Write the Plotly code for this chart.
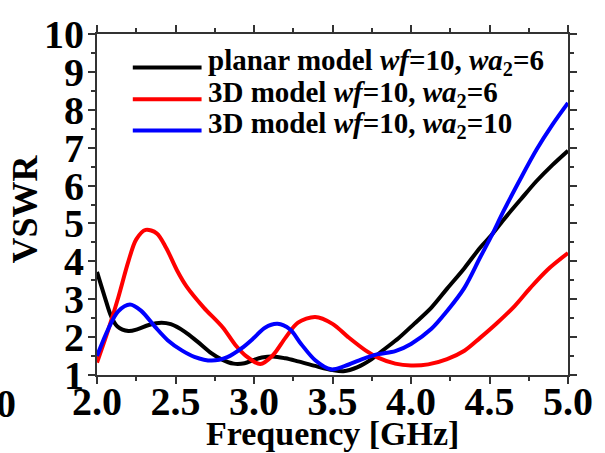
import plotly.graph_objects as go

# VSWR vs frequency for three antenna models
freq_planar = [2.00, 2.05, 2.09, 2.13, 2.20, 2.26, 2.33, 2.41, 2.47, 2.56, 2.64, 2.73, 2.79, 2.87,
               2.94, 3.00, 3.05, 3.12, 3.20, 3.28, 3.39, 3.50, 3.57, 3.66, 3.75, 3.83, 3.92, 4.02,
               4.13, 4.23, 4.34, 4.44, 4.51, 4.59, 4.70, 4.80, 4.90, 5.00]
vswr_planar = [3.72, 3.05, 2.55, 2.28, 2.16, 2.21, 2.32, 2.38, 2.34, 2.14, 1.88, 1.57, 1.42, 1.30,
               1.31, 1.40, 1.46, 1.49, 1.44, 1.36, 1.24, 1.13, 1.10, 1.21, 1.42, 1.68, 1.97, 2.35,
               2.78, 3.28, 3.82, 4.36, 4.68, 5.10, 5.64, 6.12, 6.54, 6.92]

freq_3d_wa6 = [2.00, 2.07, 2.135, 2.20, 2.25, 2.31, 2.38, 2.44, 2.51, 2.57, 2.68, 2.80, 2.88, 2.95,
               3.04, 3.12, 3.20, 3.28, 3.39, 3.50, 3.60, 3.71, 3.79, 3.90, 4.00, 4.11, 4.23, 4.34,
               4.44, 4.55, 4.66, 4.76, 4.87, 5.00]
vswr_3d_wa6 = [1.33, 2.17, 3.04, 4.00, 4.58, 4.83, 4.74, 4.36, 3.76, 3.34, 2.78, 2.26, 1.80, 1.50,
               1.29, 1.52, 1.98, 2.38, 2.53, 2.35, 2.00, 1.65, 1.46, 1.30, 1.25, 1.28, 1.42, 1.64,
               1.98, 2.38, 2.82, 3.30, 3.78, 4.22]

freq_3d_wa10 = [2.00, 2.07, 2.135, 2.21, 2.28, 2.37, 2.45, 2.54, 2.62, 2.73, 2.83, 2.92, 3.00, 3.07,
                3.15, 3.23, 3.30, 3.39, 3.49, 3.58, 3.69, 3.79, 3.90, 4.00, 4.13, 4.23, 4.34, 4.44,
                4.51, 4.59, 4.70, 4.80, 4.90, 5.00]
vswr_3d_wa10 = [1.50, 2.20, 2.68, 2.86, 2.70, 2.27, 1.92, 1.65, 1.48, 1.38, 1.47, 1.70, 1.98, 2.25,
                2.35, 2.20, 1.82, 1.39, 1.15, 1.24, 1.42, 1.55, 1.63, 1.82, 2.22, 2.69, 3.30, 4.10,
                4.65, 5.33, 6.20, 6.95, 7.60, 8.18]

series_labels = [
    "planar model <i>wf</i>=10, <i>wa</i><sub>2</sub>=6",
    "3D model <i>wf</i>=10, <i>wa</i><sub>2</sub>=6",
    "3D model <i>wf</i>=10, <i>wa</i><sub>2</sub>=10",
]
series_colors = ["#000000", "#ff0000", "#0000ff"]

x_ticks = [2.0, 2.5, 3.0, 3.5, 4.0, 4.5, 5.0]
x_tick_text = ["2.0", "2.5", "3.0", "3.5", "4.0", "4.5", "5.0"]
y_ticks = [1, 2, 3, 4, 5, 6, 7, 8, 9, 10]

FONT = "Liberation Serif, Times New Roman, serif"

fig = go.Figure()
for xs, ys, name, col in zip([freq_planar, freq_3d_wa6, freq_3d_wa10],
                             [vswr_planar, vswr_3d_wa6, vswr_3d_wa10],
                             series_labels, series_colors):
    fig.add_trace(go.Scatter(x=xs, y=ys, mode="lines", name=name,
                             line=dict(color=col, width=4, shape="spline", smoothing=0.9),
                             showlegend=False))

axis_common = dict(
    showline=True, linecolor="#333333", linewidth=2, mirror="ticks",
    ticks="outside", ticklen=7, tickwidth=1.5, tickcolor="#333333",
    showgrid=False, zeroline=False,
    tickfont=dict(family=FONT, size=40, color="#000000", weight="bold"),
)

fig.update_xaxes(range=[2.0, 5.0], tickvals=x_ticks, ticktext=x_tick_text,
                 ticklabelstandoff=-17,
                 minor=dict(dtick=0.25, tick0=2.0, ticklen=4, tickwidth=1.5,
                            tickcolor="#333333", ticks="outside", showgrid=False),
                 **axis_common)
fig.update_yaxes(range=[1, 10], tickvals=y_ticks,
                 ticklabelstandoff=-4,
                 minor=dict(dtick=0.5, tick0=1, ticklen=4, tickwidth=1.5,
                            tickcolor="#333333", ticks="outside", showgrid=False),
                 **axis_common)

# Legend drawn as line samples plus rich-text labels
legend_rows_y = [0.902, 0.809, 0.717]
for row_y, name, col in zip(legend_rows_y, series_labels, series_colors):
    fig.add_shape(type="line", xref="paper", yref="paper",
                  x0=0.076, x1=0.222, y0=row_y, y1=row_y,
                  line=dict(color=col, width=4))
    fig.add_annotation(xref="paper", yref="paper", x=0.232, y=row_y + 0.016,
                       xanchor="left", yanchor="middle", showarrow=False,
                       text="<b>" + name + "</b>",
                       font=dict(family=FONT, size=29, color="#000000"))

# Axis titles
fig.add_annotation(xref="paper", yref="paper", x=0.5, y=-0.173,
                   xanchor="center", yanchor="middle", showarrow=False,
                   text="<b>Frequency [GHz]</b>",
                   font=dict(family=FONT, size=34, color="#000000"))
fig.add_annotation(xref="paper", yref="paper", x=-0.153, y=0.488,
                   xanchor="center", yanchor="middle", showarrow=False, textangle=-90,
                   text="<b>VSWR</b>",
                   font=dict(family=FONT, size=36, color="#000000"))
# Partial tick label at the far left edge
fig.add_annotation(xref="paper", yref="paper", x=-0.167, y=-0.085,
                   xanchor="right", yanchor="middle", showarrow=False,
                   text="<b>0</b>",
                   font=dict(family=FONT, size=40, color="#000000"))

fig.update_layout(
    width=605, height=453,
    margin=dict(l=97, r=34, t=29, b=78),
    paper_bgcolor="white", plot_bgcolor="white",
)

fig.write_html("out.html")
